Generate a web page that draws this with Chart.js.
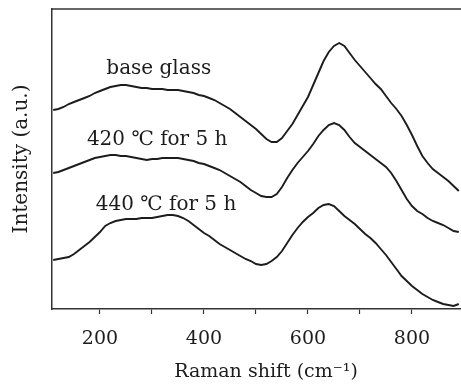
<!DOCTYPE html>
<html>
<head>
<meta charset="utf-8">
<script src="https://cdn.jsdelivr.net/npm/chart.js@4/dist/chart.umd.min.js"></script>
<style>
  html, body { margin: 0; padding: 0; background: #fff; overflow: hidden; }
  #wrap { width: 461px; height: 385px; overflow: hidden; }
</style>
</head>
<body>
<div id="wrap"><canvas id="chart" width="480" height="385"></canvas></div>
<script>
// Raman shift (cm-1), one reading every 10 cm-1
const shifts = [110,120,130,140,150,160,170,180,190,200,210,220,230,240,250,260,270,280,290,300,
  310,320,330,340,350,360,370,380,390,400,410,420,430,440,450,460,470,480,490,500,
  510,520,530,540,550,560,570,580,590,600,610,620,630,640,650,660,670,680,690,700,
  710,720,730,740,750,760,770,780,790,800,810,820,830,840,850,860,870,880,890];

// intensities (arbitrary units, curves already offset as in the figure)
const baseGlass = [199,200,202,205,207,209,211,213,216,218,220,222,223,224,224,223,222,221,221,220,
  220,220,219,219,219,218,217,216,214,213,211,209,206,203,200,196,192,188,184,180,
  175,170,167,167,171,178,185,194,203,212,224,236,248,257,263,266,263,256,249,243,
  237,231,225,220,213,206,200,193,184,174,163,153,146,140,136,132,128,123,118];

const t420 = [136,137,139,141,143,145,147,149,151,152,153,154,154,153,153,152,151,150,149,150,
  150,151,151,151,151,150,149,148,146,145,143,141,139,136,133,130,127,123,119,116,
  113,112,112,115,122,131,139,146,152,158,165,173,179,184,186,184,179,172,166,162,
  158,154,150,146,142,136,128,119,110,103,98,95,91,88,86,84,81,78,77];

const t440 = [49,50,51,52,55,59,63,67,72,77,83,86,88,89,90,90,90,91,91,91,
  92,93,94,94,93,91,88,84,80,76,73,69,65,62,59,56,53,50,48,45,
  44,45,48,52,58,66,74,81,87,92,96,101,104,105,103,98,93,89,85,80,
  75,71,66,60,54,47,40,33,28,23,19,15,12,9,7,5,4,3,5];

const labelTexts = ["base glass", "420 \u2103 for 5 h", "440 \u2103 for 5 h"];
const labelX = [313, 310, 327];
const labelY = [240, 169, 104];

const SERIF = "'DejaVu Serif', 'Liberation Serif', serif";
const INK = "#1c1c1c";

function toPoints(ys) {
  return shifts.map((x, i) => ({ x: x, y: ys[i] }));
}

const curveLabels = {
  id: "curveLabels",
  afterDatasetsDraw(chart) {
    const { ctx, scales } = chart;
    ctx.save();
    ctx.fillStyle = INK;
    ctx.font = "20px " + SERIF;
    ctx.textAlign = "center";
    ctx.textBaseline = "middle";
    labelTexts.forEach((t, i) => {
      ctx.fillText(t, scales.x.getPixelForValue(labelX[i]), scales.y.getPixelForValue(labelY[i]));
    });
    // top frame line
    const a = chart.chartArea;
    ctx.strokeStyle = "#333";
    ctx.lineWidth = 1.5;
    ctx.beginPath();
    ctx.moveTo(a.left, a.top);
    ctx.lineTo(a.right, a.top);
    ctx.stroke();
    ctx.restore();
  },
};

const lineStyle = { borderColor: INK, borderWidth: 1.9, pointRadius: 0, tension: 0, fill: false };

new Chart(document.getElementById("chart"), {
  type: "line",
  data: {
    datasets: [
      { label: "base glass", data: toPoints(baseGlass), ...lineStyle },
      { label: "420", data: toPoints(t420), ...lineStyle },
      { label: "440", data: toPoints(t440), ...lineStyle },
    ],
  },
  options: {
    responsive: false,
    devicePixelRatio: 1,
    animation: false,
    layout: { padding: { top: 9, left: 0, right: 0, bottom: 0 } },
    plugins: { legend: { display: false }, tooltip: { enabled: false } },
    scales: {
      x: {
        type: "linear",
        min: 107.7,
        max: 930.8,
        afterFit: (s) => { s.height = 76; },
        border: { display: true, color: "#333", width: 1.5 },
        grid: { display: true, drawOnChartArea: false, drawTicks: true, tickLength: 5, tickColor: "#333", tickWidth: 1.2 },
        ticks: {
          stepSize: 100,
          includeBounds: false,
          autoSkip: false,
          maxRotation: 0,
          padding: 14,
          color: INK,
          font: { family: SERIF, size: 19 },
          callback: (v) => (v % 200 === 0 ? String(v) : ""),
        },
        title: {
          display: true,
          text: "Raman shift (cm\u207B\u00B9)",
          color: INK,
          font: { family: SERIF, size: 19 },
          padding: { top: 0, bottom: 2 },
        },
      },
      y: {
        min: 0,
        max: 300,
        afterFit: (s) => { s.width = 52; },
        border: { display: true, color: "#333", width: 1.5 },
        grid: { display: false },
        ticks: { display: false },
        title: {
          display: true,
          text: "Intensity (a.u.)",
          color: INK,
          font: { family: SERIF, size: 20 },
          padding: { top: 10, bottom: 0 },
        },
      },
    },
  },
  plugins: [curveLabels],
});
</script>
</body>
</html>
